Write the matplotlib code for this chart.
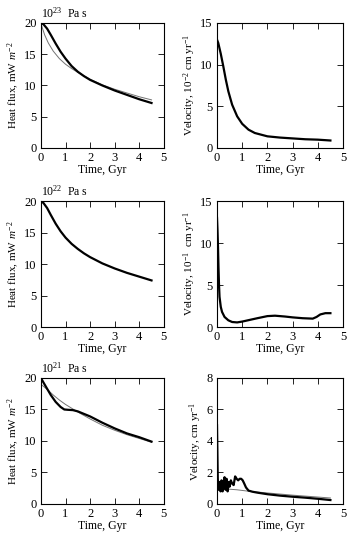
import matplotlib.pyplot as plt

plt.rcParams['font.family'] = ['Liberation Serif', 'DejaVu Serif']
plt.rcParams['mathtext.fontset'] = 'custom'
plt.rcParams['mathtext.rm'] = 'Liberation Serif'
plt.rcParams['mathtext.it'] = 'Liberation Serif:italic'
plt.rcParams['font.size'] = 8

# 1e23 Pa s
t_a = [0, 0.1, 0.25, 0.4, 0.6, 0.8, 1.0, 1.25, 1.5, 1.75, 2.0, 2.5, 3.0, 3.5, 4.0, 4.5]
q_a_thick = [20, 19.8, 19.1, 18.1, 16.7, 15.4, 14.3, 13.1, 12.2, 11.5, 10.9, 10.0, 9.2, 8.5, 7.8, 7.2]
t_a2 = [0, 0.05, 0.15, 0.3, 0.5, 0.75, 1.0, 1.25, 1.5, 2.0, 2.5, 3.0, 3.5, 4.0, 4.5]
q_a_thin = [20, 19.3, 18.1, 16.8, 15.5, 14.3, 13.4, 12.7, 12.1, 11.0, 10.1, 9.4, 8.8, 8.2, 7.7]
t_va = [0, 0.05, 0.15, 0.25, 0.35, 0.45, 0.6, 0.8, 1.0, 1.25, 1.5, 2.0, 2.5, 3.0, 3.5, 4.0, 4.5]
v_a = [13.0, 12.6, 11.3, 9.8, 8.2, 6.8, 5.2, 3.8, 2.9, 2.2, 1.8, 1.4, 1.25, 1.15, 1.05, 1.0, 0.9]

# 1e22 Pa s
t_b = [0, 0.1, 0.25, 0.4, 0.6, 0.8, 1.0, 1.25, 1.5, 1.75, 2.0, 2.5, 3.0, 3.5, 4.0, 4.5]
q_b = [20, 19.7, 18.9, 17.8, 16.4, 15.2, 14.2, 13.2, 12.4, 11.7, 11.1, 10.1, 9.3, 8.6, 8.0, 7.4]
t_vb = [0, 0.02, 0.04, 0.06, 0.08, 0.1, 0.15, 0.2, 0.3, 0.45, 0.6, 0.8, 1.0, 1.3, 1.6, 2.0, 2.3, 2.7, 3.0, 3.4, 3.8, 3.95, 4.1, 4.3, 4.5]
v_b = [13.0, 11.5, 9.5, 7.0, 5.0, 3.6, 2.4, 1.8, 1.2, 0.8, 0.6, 0.55, 0.65, 0.85, 1.05, 1.3, 1.35, 1.25, 1.15, 1.05, 1.0, 1.2, 1.5, 1.65, 1.65]

# 1e21 Pa s
t_c = [0, 0.1, 0.25, 0.4, 0.6, 0.8, 0.95, 1.1, 1.3, 1.5, 1.75, 2.0, 2.5, 3.0, 3.5, 4.0, 4.5]
q_c_thick = [20, 19.3, 18.3, 17.3, 16.2, 15.4, 15.0, 14.95, 14.9, 14.7, 14.3, 13.9, 12.9, 12.0, 11.2, 10.6, 9.9]
t_c2 = [0, 0.25, 0.5, 0.75, 1.0, 1.5, 2.0, 2.5, 3.0, 3.5, 4.0, 4.5]
q_c_thin = [19.0, 18.2, 17.3, 16.5, 15.8, 14.6, 13.5, 12.5, 11.7, 11.0, 10.4, 9.8]
t_vc = [0, 0.03, 0.06, 0.1, 0.14, 0.18, 0.22, 0.26, 0.3, 0.34, 0.38, 0.42, 0.46, 0.5, 0.55, 0.6, 0.66, 0.72, 0.78, 0.84, 0.9, 0.96, 1.02, 1.08, 1.15, 1.25, 1.4, 1.6, 2.0, 2.5, 3.0, 3.5, 4.0, 4.5]
v_c_thick = [5.0, 1.6, 0.9, 1.4, 0.8, 1.5, 0.8, 1.2, 1.7, 0.9, 1.6, 0.8, 1.4, 1.1, 1.5, 1.3, 1.2, 1.75, 1.6, 1.5, 1.6, 1.6, 1.5, 1.3, 1.05, 0.85, 0.78, 0.72, 0.62, 0.53, 0.46, 0.4, 0.33, 0.25]
t_vc2 = [0, 0.05, 0.1, 0.2, 0.4, 0.8, 1.2, 2.0, 3.0, 4.0, 4.5]
v_c_thin = [2.5, 1.3, 1.0, 0.98, 0.95, 0.9, 0.82, 0.7, 0.56, 0.44, 0.38]

fig = plt.figure(figsize=(3.5, 5.37), dpi=100)

rows = [(0.7244, 0.2328), (0.391, 0.2346), (0.0615, 0.2346)]
xl, wl = 0.117, 0.351
xr, wr = 0.62, 0.36

def style(ax, ymax, ystep):
    ax.set_xlim(0, 5)
    ax.set_ylim(0, ymax)
    ax.set_xticks(range(0, 6))
    ax.set_yticks(range(0, ymax + 1, ystep))
    ax.tick_params(direction='in', top=True, right=True, length=4, width=0.6,
                   pad=3, labelsize=9)
    for s in ax.spines.values():
        s.set_linewidth(0.8)
    ax.set_xlabel('Time, Gyr', labelpad=0, fontsize=8.5)

hf_label = 'Heat flux, mW $\\mathit{m}^{-2}$'

ax = fig.add_axes([xl, rows[0][0], wl, rows[0][1]])
ax.plot(t_a2, q_a_thin, color='0.45', lw=0.7)
ax.plot(t_a, q_a_thick, color='black', lw=1.6)
style(ax, 20, 5)
ax.set_ylabel(hf_label, labelpad=2)
ax.set_title('10$^{23}$  Pa s', loc='left', fontsize=8.5, pad=4)

ax = fig.add_axes([xr, rows[0][0], wr, rows[0][1]])
ax.plot(t_va, v_a, color='black', lw=1.6)
style(ax, 15, 5)
ax.set_ylabel('Velocity, 10$^{-2}$ cm yr$^{-1}$', labelpad=2)

ax = fig.add_axes([xl, rows[1][0], wl, rows[1][1]])
ax.plot(t_b, q_b, color='black', lw=1.6)
style(ax, 20, 5)
ax.set_ylabel(hf_label, labelpad=2)
ax.set_title('10$^{22}$  Pa s', loc='left', fontsize=8.5, pad=4)

ax = fig.add_axes([xr, rows[1][0], wr, rows[1][1]])
ax.plot(t_vb, v_b, color='black', lw=1.6)
style(ax, 15, 5)
ax.set_ylabel('Velocity, 10$^{-1}$  cm yr$^{-1}$', labelpad=2)

ax = fig.add_axes([xl, rows[2][0], wl, rows[2][1]])
ax.plot(t_c2, q_c_thin, color='0.45', lw=0.7)
ax.plot(t_c, q_c_thick, color='black', lw=1.6)
style(ax, 20, 5)
ax.set_ylabel(hf_label, labelpad=2)
ax.set_title('10$^{21}$  Pa s', loc='left', fontsize=8.5, pad=4)

ax = fig.add_axes([xr, rows[2][0], wr, rows[2][1]])
ax.plot(t_vc2, v_c_thin, color='0.45', lw=0.7)
ax.plot(t_vc, v_c_thick, color='black', lw=1.6)
style(ax, 8, 2)
ax.set_ylabel('Velocity, cm yr$^{-1}$', labelpad=2)

fig.savefig('out.png', dpi=100)
